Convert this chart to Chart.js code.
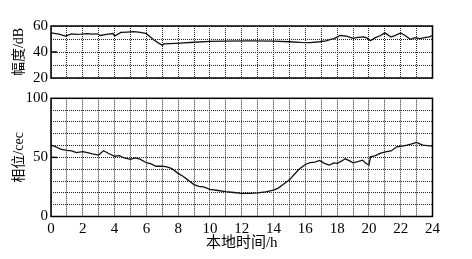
<!DOCTYPE html>
<html><head><meta charset="utf-8">
<script src="https://cdn.jsdelivr.net/npm/chart.js@4"></script>
<style>
html,body{margin:0;padding:0;background:#fff;width:472px;height:259px;overflow:hidden}
#c1{position:absolute;left:0;top:0}
#c2{position:absolute;left:0;top:80px}
</style></head><body>
<canvas id="c1" width="472" height="90"></canvas>
<canvas id="c2" width="472" height="179"></canvas>
<script>
// ---- data ----
const ampHours = [0,0.5,0.9,1.3,1.6,1.9,2.3,2.6,2.9,3.1,3.5,3.9,4.0,4.4,4.8,5.2,5.5,5.8,6.0,6.25,6.5,6.75,7.0,7.1,7.5,8.1,9,10,11,12.5,14,15,15.7,16.3,16.9,17.3,17.6,17.8,18.2,18.6,19,19.3,19.65,19.87,20.1,20.4,20.7,21,21.4,21.7,22,22.3,22.6,22.9,23.2,23.5,23.8,24];
const ampValues = [54.7,53.8,52.2,54,53.6,53.7,54.2,53.8,54,52.7,53.6,54.2,52.2,55.1,55.3,55.6,55.3,54.7,54.2,51.5,49,47,45.2,46.2,46.5,46.9,47.5,48.1,48.4,48.6,48.4,47.9,47.4,47.2,47.9,48.6,49.8,50.3,52.7,52.2,50.5,51.2,51.7,50.9,48.6,51,52.5,54.7,51.5,53,54.7,52.5,49.8,51,50.3,51,51.6,52.7];
const phaseHours = [0,0.3,0.6,1,1.3,1.6,2,2.3,2.6,3,3.3,3.6,4,4.3,4.6,5,5.3,5.6,6,6.3,6.6,7,7.3,7.6,8,8.3,8.6,9,9.3,9.6,10,10.5,11,11.5,12,12.5,13,13.5,14,14.3,14.6,15,15.3,15.6,16,16.3,16.6,16.9,17.2,17.5,17.8,18,18.3,18.5,18.8,19,19.3,19.6,19.8,20,20.1,20.4,20.7,21.1,21.4,21.75,22.1,22.4,22.7,23,23.2,23.4,23.7,24];
const phaseValues = [60.4,59,57,56,55.5,54,54.8,54,53,52,55.6,53.5,51,51.5,49.5,48.3,49.5,48.5,45.5,44.5,42.5,42.6,42,40.5,36.5,34,31,27,25.5,25,23,22,21,20.3,19.5,19.5,20,20.8,22.3,24,27,31,35.5,40,44,45.5,46,47.5,45,43.5,45.4,45,47,48.8,47,45.4,46.5,47.7,45,43.5,50.5,51.5,53.4,54.8,55.5,59,59.5,60.4,61.5,62.7,61.5,60.4,60,59.6];
const xTickLabels = [0,2,4,6,8,10,12,14,16,18,20,22,24];
const ampTickLabels = [20,40,60];
const phaseTickLabels = [0,50,100];
const ampTitle = '幅度/dB';
const phaseTitle = '相位/cec';
const xTitle = '本地时间/h';

const FONT = '"Liberation Serif", "Noto Sans CJK SC", serif';
const gridStyle = {color:'#222', lineWidth:1, drawTicks:false};
const dash = [1,1];

const frame = {
  id:'frame',
  afterDatasetsDraw(chart, args, opts){
    const {ctx, chartArea:a} = chart;
    const ys = chart.scales.y;
    ctx.save();
    ctx.strokeStyle='#000'; ctx.lineWidth=1.5; ctx.setLineDash([]);
    ctx.strokeRect(a.left, a.top, a.right-a.left, a.bottom-a.top);
    (opts.ticks||[]).forEach(v=>{
      const y = ys.getPixelForValue(v);
      ctx.beginPath(); ctx.moveTo(a.left, y); ctx.lineTo(a.left+6, y); ctx.stroke();
    });
    ctx.restore();
  }
};

function makeChart(id, hours, values, yMin, yMax, yLabels, yTitle, isBottom){
  const pts = hours.map((h,i)=>({x:h, y:values[i]}));
  return new Chart(document.getElementById(id), {
    type:'line',
    data:{datasets:[{data:pts, borderColor:'#111', borderWidth:1.3, pointRadius:0, tension:0, fill:false}]},
    options:{
      responsive:false, animation:false, devicePixelRatio:1,
      layout:{padding: isBottom ? {top:18.3, right:39.5, bottom:0, left:0} : {top:26, right:39.5, bottom:9, left:0}},
      plugins:{legend:{display:false}, tooltip:{enabled:false}, frame:{ticks: isBottom?[50]:[40]}},
      scales:{
        x:{type:'linear', min:0, max:24,
           ticks:{display:isBottom, stepSize:1, autoSkip:false, maxRotation:0, padding:4,
                  color:'#000', font:{family:FONT, size:15},
                  callback:(v)=> xTickLabels.includes(v) ? String(v) : ''},
           grid:{...gridStyle}, border:{display:false, dash:dash},
           title:{display:isBottom, text:xTitle, color:'#000', font:{family:FONT, size:15}, padding:{top:0,bottom:6.5}},
           afterFit:(s)=>{ s.height = isBottom ? 42.5 : 0; }
        },
        y:{min:yMin, max:yMax,
           ticks:{stepSize:10, autoSkip:false, padding:3, color:'#000', font:{family:FONT, size:15},
                  callback:(v)=> yLabels.includes(v) ? String(v) : ''},
           grid:{...gridStyle}, border:{display:false, dash:dash},
           title:{display:true, text:yTitle, color:'#000', font:{family:FONT, size:14}, padding:{top:10.5,bottom:0}},
           afterFit:(s)=>{ s.width = 51; }
        }
      }
    },
    plugins:[frame]
  });
}
const c1 = makeChart('c1', ampHours, ampValues, 20, 60, ampTickLabels, ampTitle, false);
const c2 = makeChart('c2', phaseHours, phaseValues, 0, 100, phaseTickLabels, phaseTitle, true);
</script>
</body></html>
